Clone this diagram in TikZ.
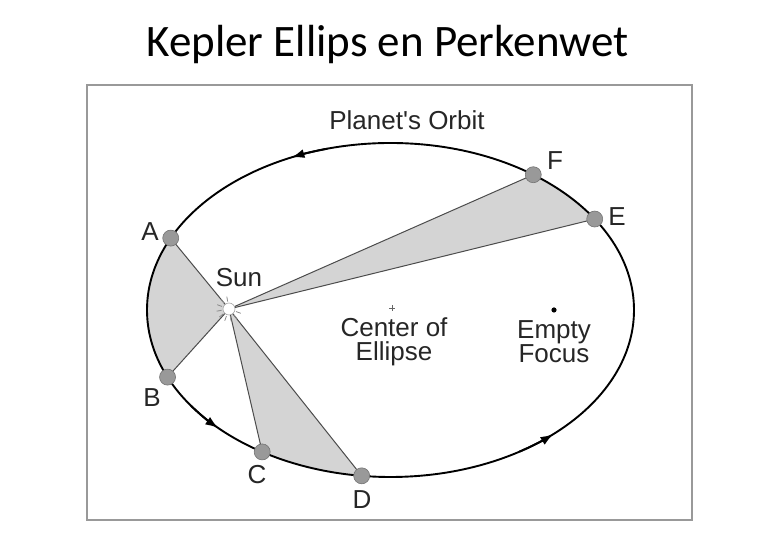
\documentclass[tikz,border=0pt]{standalone}
\usepackage{fontspec}
\setmainfont{Carlito}
\newfontfamily\diagfont{Liberation Sans}
\usetikzlibrary{arrows.meta}

\tikzset{
  orbit/.style={line width=1.9pt, black},
  ray/.style={line width=1pt, black!70},
  sector/.style={fill=black!17},
  planet/.style={circle, fill=black!40, draw=black!55, line width=0.6pt, inner sep=0pt, minimum size=16pt},
  lbl/.style={font=\diagfont\fontsize{26}{24}\selectfont, text=black!85, inner sep=0pt, align=center},
  flow/.style={-{Latex[length=13pt,width=9pt]}, orbit},
}

\begin{document}
\begin{tikzpicture}[x=1pt,y=1pt]
\useasboundingbox (0,0) rectangle (780,540);

\node[font=\fontsize{45}{54}\selectfont, anchor=base] (title) at (387.5,483) {Kepler Ellips en Perkenwet};
\draw[black!40, line width=1.5pt] (87,20) rectangle (692,455);

\begin{scope}[shift={(390.5,230)}]
  \coordinate (sun) at (-161.5,1);
  \coordinate (pA) at (154.5:243.5 and 167);
  \coordinate (pB) at (203.7:243.5 and 167);
  \coordinate (pC) at (238.2:243.5 and 167);
  \coordinate (pD) at (263.2:243.5 and 167);
  \coordinate (pE) at (33:243.5 and 167);
  \coordinate (pF) at (54.1:243.5 and 167);

  % equal areas
  \fill[sector] (sun) -- (pA) arc[start angle=154.5, end angle=203.7, x radius=243.5, y radius=167] -- cycle;
  \fill[sector] (sun) -- (pC) arc[start angle=238.2, end angle=263.2, x radius=243.5, y radius=167] -- cycle;
  \fill[sector] (sun) -- (pE) arc[start angle=33, end angle=54.1, x radius=243.5, y radius=167] -- cycle;

  \draw[orbit] (0,0) ellipse[x radius=243.5, y radius=167];
  \foreach \p in {pA,pB,pC,pD,pE,pF}
    \draw[ray] (sun) -- (\p);

  % direction of motion
  \draw[flow] (105:243.5 and 167) arc[start angle=105, end angle=114, x radius=243.5, y radius=167];
  \draw[flow] (215:243.5 and 167) arc[start angle=215, end angle=225, x radius=243.5, y radius=167];
  \draw[flow] (302:243.5 and 167) arc[start angle=302, end angle=312, x radius=243.5, y radius=167];

  \node[planet] (A) at (pA) {};
  \node[planet] (B) at (pB) {};
  \node[planet] (C) at (pC) {};
  \node[planet] (D) at (pD) {};
  \node[planet] (E) at (pE) {};
  \node[planet] (F) at (pF) {};

  \node[circle, fill=white, draw=black!35, line width=0.6pt, minimum size=12pt, inner sep=0pt] (S) at (sun) {};
  \foreach \a in {100,130,...,340}
    \draw[black!45, line width=0.8pt] (sun) ++(\a:7.5) -- ++(\a:5);
\end{scope}

\draw[black!60, line width=0.6pt] (389,232) -- (395,232) (392,229) -- (392,235);
\fill (554,230) circle (2.6);

\node[lbl, anchor=base] (orbitlbl) at (407,410) {Planet's Orbit};
\node[lbl] (lA) at (150,308) {A};
\node[lbl] (lB) at (152,142) {B};
\node[lbl] (lC) at (257,65) {C};
\node[lbl] (lD) at (362,40) {D};
\node[lbl] (lE) at (617,323) {E};
\node[lbl] (lF) at (555,379) {F};
\node[lbl] (lSun) at (239,262) {Sun};
\node[lbl] (lcenter) at (394,198) {Center of\\Ellipse};
\node[lbl] (lfocus) at (554,198) {Empty\\Focus};
\end{tikzpicture}
\end{document}
